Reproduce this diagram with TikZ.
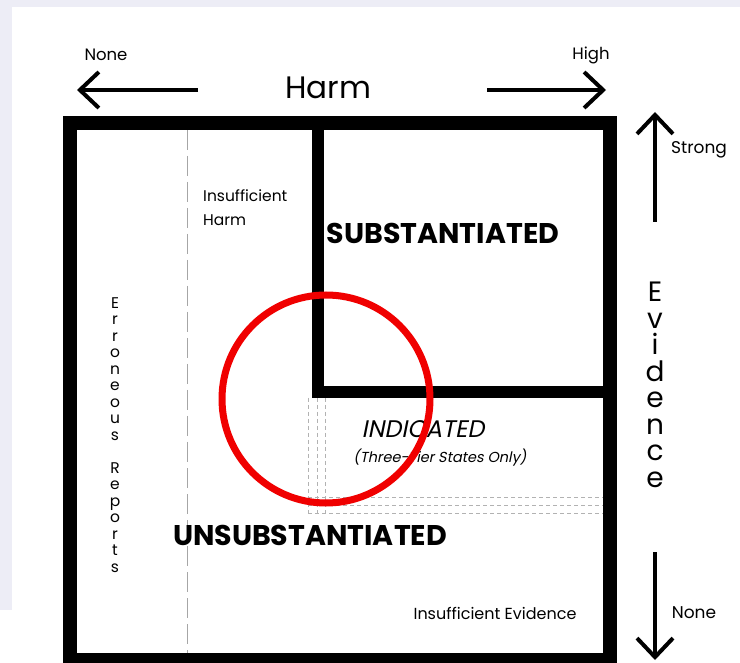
\documentclass[tikz,border=0pt]{standalone}
\usepackage{fontspec}
\setmainfont{Poppins}[AutoFakeSlant=0.2]
\usetikzlibrary{arrows.meta}

\definecolor{lavender}{HTML}{EDEDF6}
\definecolor{ringred}{HTML}{F00000}

\tikzset{
  frame/.style={line width=13.5pt},
  axisarrow/.style={line width=4pt, -{Straight Barb[length=19pt,width=36pt,line width=4pt]}},
  guide/.style={gray!70, line width=0.7pt, dash pattern=on 20pt off 6pt},
  fineguide/.style={gray!60, line width=0.6pt, dash pattern=on 4pt off 3pt},
  small/.style={inner sep=0pt, font=\fontsize{15.5}{24}\selectfont},
  stacked/.style={inner sep=0pt, align=center, font=\fontsize{15.5}{16.5}\selectfont},
  outcome/.style={inner sep=0pt, font=\fontsize{28.5}{32}\selectfont\bfseries},
}

\begin{document}
\begin{tikzpicture}[x=1pt,y=-1pt]
  \useasboundingbox (0,0) rectangle (740,663);
  % page background
  \fill[lavender] (0,0) rectangle (740,663);
  \fill[white] (12,7) rectangle (740,663);
  \fill[white] (0,610) rectangle (12,663);

  % guide lines
  \draw[guide] (187,130) -- (187,653);
  \foreach \gx in {308,317,325}
    \draw[fineguide] (\gx,398) -- (\gx,513);
  \foreach \gy in {497,505,513}
    \draw[fineguide] (308,\gy) -- (603,\gy);

  % the outer box and the L
  \draw[frame] (70,123) rectangle (610,660);
  \draw[line width=12pt] (318,123) |- (610,392);

  % Harm axis
  \coordinate (harmL) at (198,90);
  \coordinate (harmLtip) at (77,90);
  \coordinate (harmR) at (487,90);
  \coordinate (harmRtip) at (606,90);
  \draw[axisarrow] (harmL) -- (harmLtip);
  \draw[axisarrow] (harmR) -- (harmRtip);
  \node[inner sep=0pt, font=\fontsize{31}{36}\selectfont] (harm) at (328,88) {Harm};
  \node[small, font=\fontsize{16.5}{20}\selectfont] (harmnone) at (106,55) {None};
  \node[small, font=\fontsize{16.5}{20}\selectfont] (harmhigh) at (591,55) {High};

  % Evidence axis
  \coordinate (evidU) at (655,222);
  \coordinate (evidUtip) at (655,112);
  \coordinate (evidD) at (655,552);
  \coordinate (evidDtip) at (655,660);
  \draw[axisarrow] (evidU) -- (evidUtip);
  \draw[axisarrow] (evidD) -- (evidDtip);
  \node[inner sep=0pt, align=center, font=\fontsize{28}{26.5}\selectfont] (evidence) at (655,385)
    {E\\v\\i\\d\\e\\n\\c\\e};
  \node[small, font=\fontsize{17}{20}\selectfont] (strong) at (699,150) {Strong};
  \node[small, font=\fontsize{17}{20}\selectfont] (evidnone) at (694,613) {None};

  % regions
  \node[small, align=left, anchor=north west] (insharm) at (203,189) {Insufficient\\Harm};
  \node[stacked] (erroneous) at (115,435)
    {E\\r\\r\\o\\n\\e\\o\\u\\s\\[16.5pt]R\\e\\p\\o\\r\\t\\s};
  \node[outcome] (subst) at (443,233) {SUBSTANTIATED};
  \node[outcome] (unsubst) at (310,535) {UNSUBSTANTIATED};
  \node[inner sep=0pt, anchor=base, font=\fontsize{24}{28}\selectfont\itshape] (indicated) at (423,438) {INDICATED};
  \node[inner sep=0pt, anchor=base, font=\fontsize{14.5}{18}\selectfont\itshape] (threetier) at (440,462) {(Three-Tier States Only)};
  \node[small, font=\fontsize{16}{20}\selectfont] (insevid) at (495,613) {Insufficient Evidence};

  % the red ring
  \draw[ringred, line width=7pt] (326,399) circle [radius=104pt];
\end{tikzpicture}
\end{document}
